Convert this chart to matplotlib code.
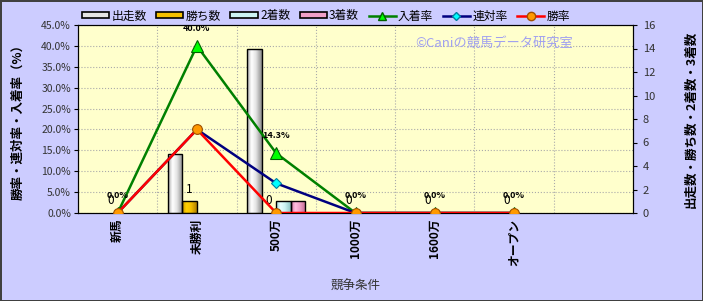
import numpy as np
import matplotlib
matplotlib.use("Agg")
import matplotlib.pyplot as plt
from matplotlib.colors import LinearSegmentedColormap
from matplotlib.patches import Patch
from matplotlib.lines import Line2D

plt.rcParams["font.family"] = ["Noto Sans CJK JP", "DejaVu Sans"]

# データ
categories = ["新馬", "未勝利", "500万", "1000万", "1600万", "オープン"]
starts = [0, 5, 14, 0, 0, 0]        # 出走数
wins = [0, 1, 0, 0, 0, 0]           # 勝ち数
seconds = [0, 0, 1, 0, 0, 0]        # 2着数
thirds = [0, 0, 1, 0, 0, 0]         # 3着数
place_rate = [0.0, 40.0, 14.3, 0.0, 0.0, 0.0]   # 入着率
rentai_rate = [0.0, 20.0, 7.1, 0.0, 0.0, 0.0]   # 連対率
win_rate = [0.0, 20.0, 0.0, 0.0, 0.0, 0.0]      # 勝率

x = np.arange(len(categories))

fig = plt.figure(figsize=(7.03, 3.01), dpi=100)
fig.patch.set_facecolor("#CCCCFF")
fig.patch.set_edgecolor("#404040")
fig.patch.set_linewidth(2)

pos = [78 / 703, 1 - 213 / 301, (633 - 78) / 703, (213 - 25) / 301]
ax = fig.add_axes(pos)          # 左軸(%)・グリッド
axb = ax.twinx()                # 右軸(数)・棒
axl = ax.twinx()                # 折れ線(%)

ax.set_facecolor("#FFFFCC")
ax.set_xlim(-0.5, 6.5)
ax.set_ylim(0, 45)
ax.set_yticks(np.arange(0, 46, 5))
ax.set_yticklabels([f"{v:.1f}%" for v in np.arange(0, 46, 5)], fontsize=7.5, color="#333333")
ax.set_xticks(np.arange(0.5, 6.5, 1), minor=True)
ax.set_xticks(x)
ax.set_xticklabels(categories, rotation=90, fontsize=8.5, fontweight="bold")
ax.tick_params(axis="x", which="both", length=0, pad=4)
ax.tick_params(axis="y", length=3, pad=2)
ax.grid(True, which="major", axis="y", color="#AAAAAA", linestyle=":", linewidth=0.8)
ax.grid(True, which="minor", axis="x", color="#AAAAAA", linestyle=":", linewidth=0.8)
ax.set_axisbelow(True)
ax.set_ylabel("勝率・連対率・入着率（%）", fontsize=9, fontweight="bold", labelpad=12)
ax.set_xlabel("競争条件", fontsize=9, color="#333333", labelpad=10)
for s in ax.spines.values():
    s.set_color("black")

# 棒グラフ
axb.set_ylim(0, 16)
axb.set_yticks(np.arange(0, 17, 2))
axb.tick_params(axis="y", labelsize=8, labelcolor="#333333", length=3, pad=4)
axb.set_ylabel("出走数・勝ち数・2着数・3着数", fontsize=9, fontweight="bold", labelpad=21)

w = 0.183
bar_specs = [
    ("出走数", starts, ["#A8A8A8", "#FFFFFF", "#E4E4E4", "#8C8C8C"]),
    ("勝ち数", wins, ["#C89600", "#FFD000", "#F5C000", "#B08000"]),
    ("2着数", seconds, ["#A0D8D8", "#E8FFFF", "#CCF4F4", "#8CC4C4"]),
    ("3着数", thirds, ["#D87AA8", "#FFC0E0", "#F0A0C8", "#C06890"]),
]
grad = np.linspace(0, 1, 64).reshape(1, -1)
handles = []
for i, (name, vals, cols) in enumerate(bar_specs):
    cmap = LinearSegmentedColormap.from_list(name, [(0, cols[0]), (0.3, cols[1]), (0.6, cols[2]), (1, cols[3])])
    bars = axb.bar(x + (i - 1.5) * w, vals, width=w, facecolor=cols[2],
                   edgecolor="black", linewidth=1, zorder=2)
    for b in bars:
        h = b.get_height()
        if h <= 0:
            b.set_linewidth(0)
            continue
        im = axb.imshow(grad, cmap=cmap, aspect="auto", zorder=2.5,
                        extent=[b.get_x(), b.get_x() + b.get_width(), 0, h])
        im.set_clip_path(b)
        b.set_facecolor("none")
        b.set_zorder(3)
    handles.append(Patch(facecolor=cols[2], edgecolor="black", linewidth=1.2, label=name))
axb.set_xlim(-0.5, 6.5)
axb.set_ylim(0, 16)

# 勝ち数ラベル
for xi, v in zip(x, wins):
    axb.annotate(f"{v}", (xi - 0.5 * w, v), xytext=(0, 4), textcoords="offset points",
                 ha="center", va="bottom", fontsize=8.5, zorder=4)

# 折れ線
axl.set_ylim(0, 45)
axl.set_xlim(-0.5, 6.5)
axl.set_yticks([])
for s in axl.spines.values():
    s.set_visible(False)
axl.plot(x, place_rate, color="#008000", lw=1.8, marker="^", ms=8,
         mfc="#00FF00", mec="#006000", mew=0.8, label="入着率")
axl.plot(x, rentai_rate, color="#000080", lw=1.8, marker="D", ms=5.5,
         mfc="#00FFFF", mec="#0080A0", mew=0.8, label="連対率")
axl.plot(x, win_rate, color="#FF0000", lw=1.8, marker="o", ms=7,
         mfc="#FF9900", mec="#A05000", mew=0.8, label="勝率")
for xi, v in zip(x, place_rate):
    axl.annotate(f"{v:.1f}%", (xi, v), xytext=(0, 12.5), textcoords="offset points",
                 ha="center", va="center", fontsize=6.5, fontweight="bold")

handles += [
    Line2D([], [], color="#008000", lw=1.8, marker="^", ms=6, mfc="#00FF00", mec="#006000", label="入着率"),
    Line2D([], [], color="#000080", lw=1.8, marker="D", ms=4.5, mfc="#00FFFF", mec="#0080A0", label="連対率"),
    Line2D([], [], color="#FF0000", lw=1.8, marker="o", ms=6, mfc="#FF9900", mec="#A05000", label="勝率"),
]
fig.legend(handles=handles, loc="center", bbox_to_anchor=(326 / 703, 1 - 16 / 301),
           ncol=7, frameon=False, fontsize=8.5, handlelength=2.3, handleheight=0.45,
           columnspacing=0.8, handletextpad=0.2)

fig.text(494 / 703, 1 - 43 / 301, "©Caniの競馬データ研究室", color="#A0A0F0",
         fontsize=9.5, ha="center", va="center")

fig.savefig("out.png", dpi=100, facecolor=fig.get_facecolor(), edgecolor=fig.get_edgecolor())
